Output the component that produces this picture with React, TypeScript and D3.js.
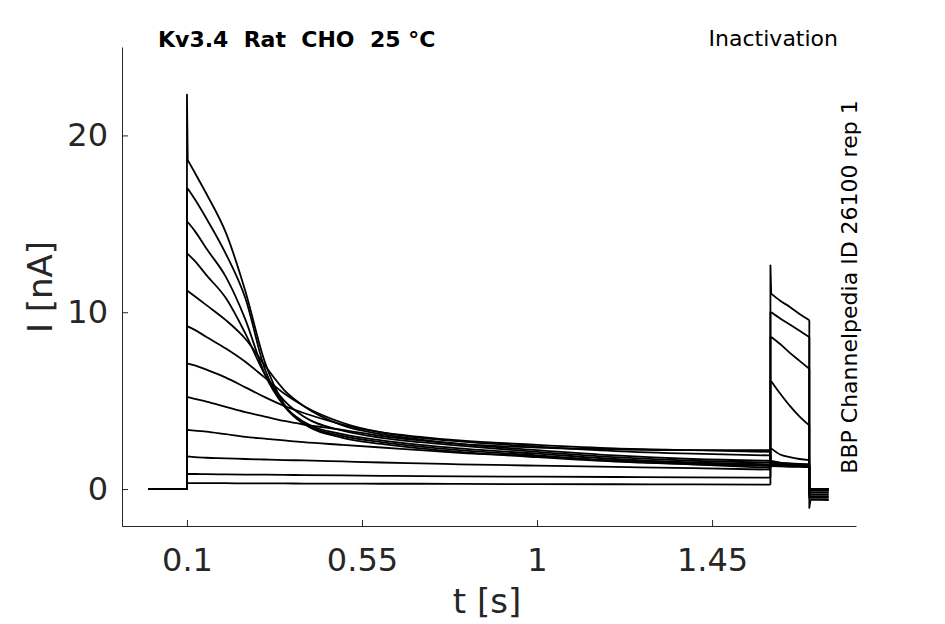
import * as d3 from 'd3';
import { useEffect, useRef } from 'react';

// sample times (s) of the prepulse, the test pulse and the tail
const preTimes = [0.1, 0.12, 0.15, 0.2, 0.25, 0.3, 0.35, 0.4, 0.5, 0.6, 0.7, 0.8, 1.0, 1.2, 1.4, 1.6];
const testTimes = [1.6, 1.625, 1.65, 1.675, 1.7];
const tailTimes = [1.7, 1.75];

// currents (nA) read from the sweeps, smallest prepulse current first
const preSweeps = [
  [0.34, 0.33, 0.33, 0.33, 0.32, 0.32, 0.32, 0.31, 0.31, 0.3, 0.3, 0.29, 0.28, 0.27, 0.26, 0.25],
  [0.85, 0.85, 0.84, 0.83, 0.82, 0.81, 0.8, 0.79, 0.77, 0.75, 0.73, 0.72, 0.7, 0.68, 0.66, 0.65],
  [1.85, 1.8, 1.77, 1.74, 1.7, 1.67, 1.64, 1.62, 1.56, 1.5, 1.45, 1.4, 1.32, 1.25, 1.18, 1.1],
  [3.35, 3.3, 3.25, 3.1, 2.95, 2.85, 2.75, 2.65, 2.5, 2.35, 2.2, 2.05, 1.85, 1.6, 1.4, 1.2],
  [5.2, 5.1, 4.95, 4.65, 4.35, 4.1, 3.85, 3.65, 3.35, 3.0, 2.75, 2.55, 2.35, 2.25, 2.2, 2.2],
  [7.1, 7.0, 6.75, 6.3, 5.75, 5.2, 4.7, 4.3, 3.65, 3.2, 2.95, 2.75, 2.5, 2.3, 2.2, 2.1],
  [9.2, 9.0, 8.6, 7.95, 7.2, 6.3, 5.4, 4.7, 3.75, 3.2, 2.9, 2.7, 2.4, 2.15, 2.0, 1.9],
  [11.2, 10.9, 10.4, 9.55, 8.5, 7.0, 5.6, 4.7, 3.6, 3.1, 2.8, 2.55, 2.2, 1.9, 1.7, 1.6],
  [13.3, 12.9, 12.1, 10.8, 8.8, 6.5, 5.0, 4.1, 3.3, 2.9, 2.65, 2.45, 2.1, 1.8, 1.6, 1.5],
  [15.1, 14.6, 13.6, 12.0, 9.6, 6.5, 4.7, 3.8, 3.1, 2.75, 2.5, 2.3, 2.0, 1.7, 1.5, 1.4],
  [17.0, 16.4, 15.3, 13.3, 10.8, 6.8, 4.7, 3.7, 3.0, 2.65, 2.4, 2.2, 1.9, 1.6, 1.45, 1.35],
  [18.6, 17.9, 16.7, 14.5, 11.2, 7.2, 4.8, 3.7, 2.9, 2.55, 2.3, 2.1, 1.8, 1.55, 1.4, 1.3],
];
const testSweeps = [
  [11.05, 10.65, 10.3, 9.9, 9.55],
  [10.0, 9.65, 9.3, 8.95, 8.6],
  [8.6, 8.2, 7.7, 7.25, 6.8],
  [6.1, 5.4, 4.7, 4.1, 3.6],
  [2.3, 1.95, 1.8, 1.7, 1.64],
  [1.6, 1.5, 1.45, 1.42, 1.4],
  [1.55, 1.48, 1.44, 1.4, 1.38],
  [1.5, 1.45, 1.42, 1.38, 1.36],
  [1.45, 1.42, 1.38, 1.35, 1.33],
  [1.4, 1.38, 1.35, 1.32, 1.3],
  [1.35, 1.33, 1.3, 1.28, 1.27],
  [1.3, 1.28, 1.26, 1.25, 1.24],
];
const tailSweeps = [
  [-0.6, -0.62], [-0.5, -0.5], [-0.4, -0.4], [-0.3, -0.3], [-0.2, -0.2], [-0.1, -0.1],
  [-0.05, -0.05], [-0.02, -0.02], [0, 0], [0, 0], [0, 0], [0, 0],
];
// capacitive spikes
const onsetSpike = 22.3; // largest sweep at 0.1 s
const testSpike = 12.65; // smallest sweep at 1.6 s
const tailSpike = -1.07; // smallest sweep at 1.7 s

const xTicks = [0.1, 0.55, 1, 1.45];
const yTicks = [0, 10, 20];

const W = 945;
const H = 624;
const font = 'DejaVu Sans, sans-serif';
const ink = '#262626';

export default function App() {
  const ref = useRef<SVGSVGElement>(null);

  useEffect(() => {
    if (!ref.current) return;
    const svg = d3.select(ref.current);
    svg.selectAll('*').remove();

    const x = d3.scaleLinear().domain([-0.067, 1.82]).range([122, 856]);
    const y = d3.scaleLinear().domain([-2.09, 25]).range([526, 47]);

    const smooth = d3
      .line<[number, number]>()
      .x((d) => x(d[0]))
      .y((d) => y(d[1]))
      .curve(d3.curveMonotoneX);
    const straight = d3
      .line<[number, number]>()
      .x((d) => x(d[0]))
      .y((d) => y(d[1]));

    const last = preSweeps.length - 1;
    const traces = svg.append('g').attr('fill', 'none').attr('stroke', '#000').attr('stroke-width', 1.8);

    preSweeps.forEach((pre, i) => {
      const test = testSweeps[i];
      const tail = tailSweeps[i];
      const t0 = preTimes[0];
      const t1 = testTimes[0];
      const t2 = testTimes[testTimes.length - 1];
      const onTop = i === last ? onsetSpike : pre[0];
      const testTop = i === 0 ? testSpike : test[0];
      const tailLow = i === 0 ? tailSpike : tail[0];
      const d = [
        straight([
          [0, 0],
          [t0, 0],
          [t0, onTop],
          [t0 + 0.002, pre[0]],
        ]),
        smooth(pre.map((v, k) => [preTimes[k] + (k === 0 ? 0.002 : 0), v] as [number, number])),
        straight([
          [t1, pre[pre.length - 1]],
          [t1, testTop],
          [t1 + 0.002, test[0]],
        ]),
        smooth(test.map((v, k) => [testTimes[k] + (k === 0 ? 0.002 : 0), v] as [number, number])),
        straight([
          [t2, test[test.length - 1]],
          [t2, tailLow],
          [t2 + 0.003, tail[0]],
        ]),
        straight(tail.map((v, k) => [tailTimes[k] + (k === 0 ? 0.003 : 0), v] as [number, number])),
      ].join('');
      traces.append('path').attr('d', d).attr('stroke-linejoin', 'round');
    });

    // axes, ticks pointing inwards
    const xAxis = d3.axisBottom(x).tickValues(xTicks).tickSizeInner(-6).tickSizeOuter(0).tickPadding(22).tickFormat(d3.format('~g'));
    const yAxis = d3.axisLeft(y).tickValues(yTicks).tickSizeInner(-6).tickSizeOuter(0).tickPadding(14);

    const gx = svg.append('g').attr('transform', 'translate(0,526)').call(xAxis);
    const gy = svg.append('g').attr('transform', 'translate(122,0)').call(yAxis);
    [gx, gy].forEach((g) => {
      g.attr('font-family', font).attr('font-size', 32);
      g.selectAll('.domain').attr('stroke', ink);
      g.selectAll('line').attr('stroke', ink);
      g.selectAll('text').attr('fill', ink);
    });

    svg
      .append('text')
      .text('t [s]')
      .attr('x', 487)
      .attr('y', 613)
      .attr('text-anchor', 'middle')
      .attr('font-family', font)
      .attr('font-size', 34)
      .attr('fill', ink);
    svg
      .append('text')
      .text('I [nA]')
      .attr('transform', 'translate(52,287) rotate(-90)')
      .attr('text-anchor', 'middle')
      .attr('font-family', font)
      .attr('font-size', 34)
      .attr('fill', ink);

    svg
      .append('text')
      .text('Kv3.4  Rat  CHO  25 °C')
      .attr('x', 158)
      .attr('y', 47)
      .attr('xml:space', 'preserve')
      .style('white-space', 'pre')
      .attr('font-family', font)
      .attr('font-weight', 'bold')
      .attr('font-size', 22)
      .attr('fill', '#000');
    svg
      .append('text')
      .text('Inactivation')
      .attr('x', 838)
      .attr('y', 46)
      .attr('text-anchor', 'end')
      .attr('font-family', font)
      .attr('font-size', 22)
      .attr('fill', '#000');
    svg
      .append('text')
      .text('BBP Channelpedia ID 26100 rep 1')
      .attr('transform', 'translate(857,287) rotate(-90)')
      .attr('text-anchor', 'middle')
      .attr('font-family', font)
      .attr('font-size', 22)
      .attr('fill', '#000');
  }, []);

  return (
    <svg
      ref={ref}
      width={W}
      height={H}
      style={{ position: 'absolute', left: 0, top: 0, background: '#fff' }}
    />
  );
}
